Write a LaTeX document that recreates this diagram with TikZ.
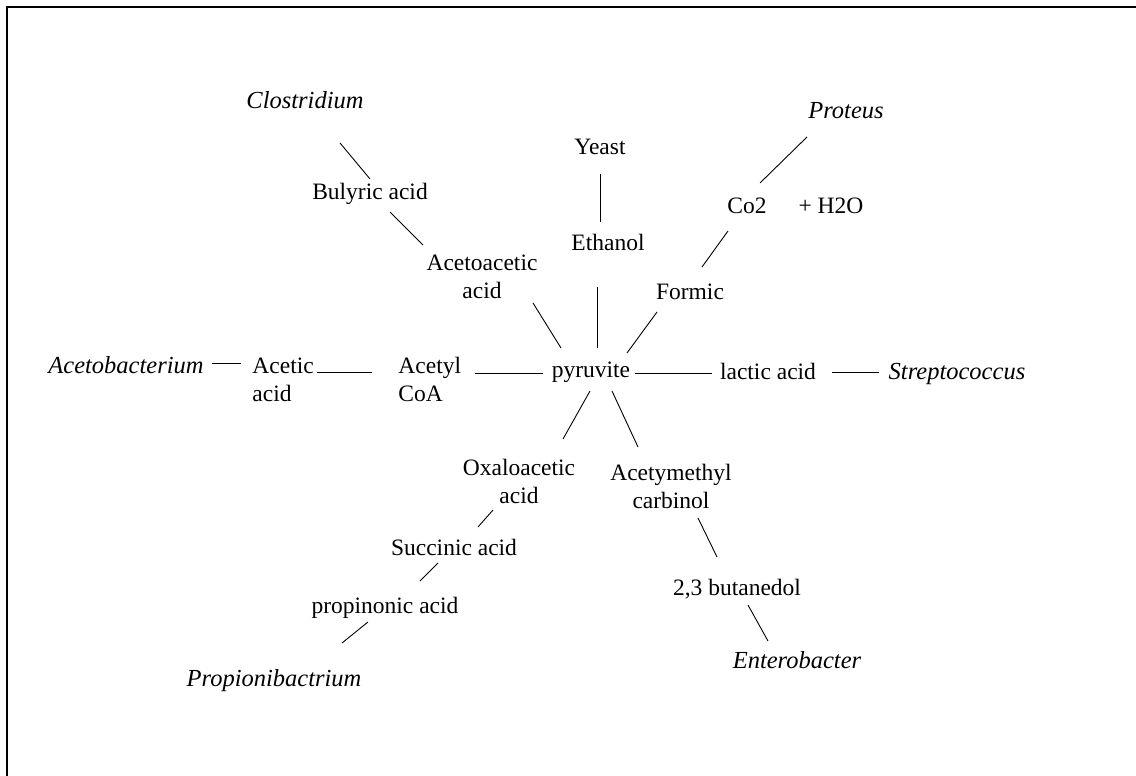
\documentclass[tikz,border=0pt]{standalone}
\usepackage{fontspec}
\setmainfont{Liberation Serif}
\usepackage{tikz}
\newcommand {\link}[4] {\draw ([shift={#2}]#1) -- ([shift={#4}]#3);}

\begin{document}
\begin{tikzpicture}[x=1pt, y=-1pt, line width=0.9pt,
    every node/.style={inner sep=0pt, font=\fontsize{23.5}{28}\selectfont},
    chem/.style={anchor=base},
    bug/.style={anchor=base, font=\fontsize{24.5}{28}\selectfont\itshape},
    chemtwo/.style={anchor=north, align=center},
    chemleft/.style={anchor=north west, align=left}]
        \useasboundingbox (0,0) rectangle (1136,776);
        \draw[line width=2pt] (7,776) -- (7,7) -- (1136,7);
        % organisms
        \node[bug] (clos) at (305,108) {Clostridium};
        \node[bug] (proteus) at (846,118) {Proteus};
        \node[bug] (acetob) at (126,373) {Acetobacterium};
        \node[bug] (strep) at (957,379) {Streptococcus};
        \node[bug] (propionib) at (274,686) {Propionibactrium};
        \node[bug] (entero) at (797,668) {Enterobacter};
        \node[chem] (yeast) at (600,154) {Yeast};
        % products
        \node[chem] (pyr) at (591,377) {pyruvite};
        \node[chem] (buly) at (370,199) {Bulyric acid};
        \node[chemtwo] (acetoac) at (482,254) {Acetoacetic\\acid};
        \node[chem] (ethanol) at (608,250) {Ethanol};
        \node[chem] (co2) at (747,213) {Co2};
        \node[chem] (h2o) at (831,213) {+\ H2O};
        \node[chem] (formic) at (690,299) {Formic};
        \node[chemleft] (acetic) at (252,357) {Acetic\\acid};
        \node[chemleft] (acetyl) at (398,357) {Acetyl\\CoA};
        \node[chem] (lactic) at (768,379) {lactic acid};
        \node[chemtwo] (oxalo) at (519,459) {Oxaloacetic\\acid};
        \node[chemtwo] (acetym) at (671,464) {Acetymethyl\\carbinol};
        \node[chem] (succ) at (454,555) {Succinic acid};
        \node[chem] (propin) at (385,613) {propinonic acid};
        \node[chem] (butan) at (737,595) {2,3 butanedol};
        % connectors
        \link{clos.base}{(35,35)}{buly.base}{(0,-20)}
        \link{buly.base}{(20,13)}{acetoac.north}{(-59,-9)}
        \link{acetoac.north}{(51,49)}{pyr.base}{(-30,-29)}
        \link{yeast.base}{(0,20)}{ethanol.base}{(-8,-28)}
        \link{ethanol.base}{(-11,37)}{pyr.base}{(6,-29)}
        \link{proteus.base}{(-39,19)}{co2.base}{(13,-30)}
        \link{co2.base}{(-19,18)}{formic.base}{(12,-32)}
        \link{formic.base}{(-33,13)}{pyr.base}{(36,-24)}
        \link{acetob.base}{(86,-10)}{acetic.north west}{(-11,6)}
        \link{acetic.north west}{(65,15)}{acetyl.north west}{(-26,15)}
        \link{acetyl.north west}{(77,16)}{pyr.base}{(-48,-4)}
        \link{pyr.base}{(44,-4)}{lactic.base}{(-56,-6)}
        \link{lactic.base}{(64,-7)}{strep.base}{(-78,-7)}
        \link{pyr.base}{(-1,14)}{oxalo.north}{(44,-20)}
        \link{pyr.base}{(21,14)}{acetym.north}{(-33,-17)}
        \link{oxalo.north}{(-26,51)}{succ.base}{(24,-28)}
        \link{succ.base}{(-16,8)}{propin.base}{(35,-32)}
        \link{propin.base}{(-17,9)}{propionib.base}{(68,-43)}
        \link{acetym.north}{(27,54)}{butan.base}{(-20,-38)}
        \link{butan.base}{(11,10)}{entero.base}{(-29,-27)}
    \end{tikzpicture}
\end{document}
